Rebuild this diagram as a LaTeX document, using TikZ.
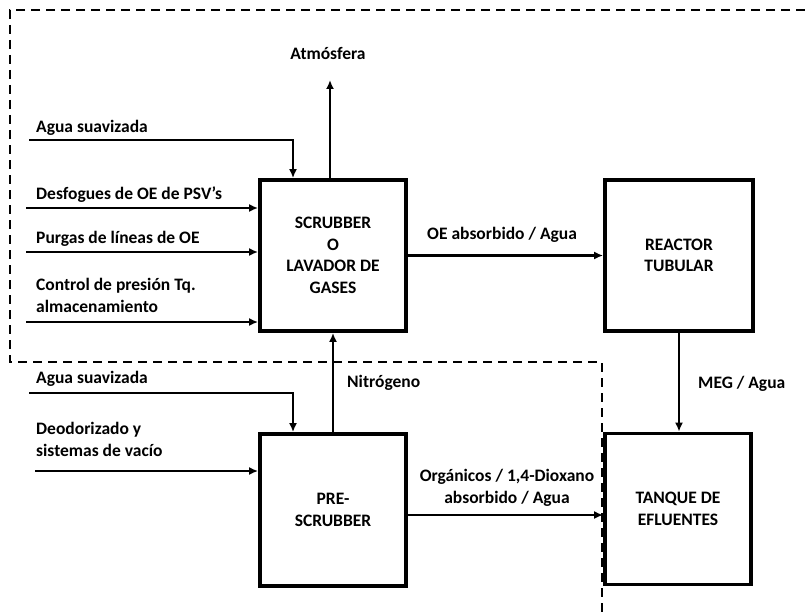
\documentclass[tikz,border=0pt]{standalone}
\usepackage{fontspec}
\setmainfont{Carlito}
\usetikzlibrary{arrows.meta}

\begin{document}
\begin{tikzpicture}[x=1pt,y=-1pt,
  box/.style={draw,line width=3.8pt,minimum width=146pt,minimum height=151pt,
    inner sep=0pt,align=center,font=\bfseries\fontsize{17.5}{21.5}\selectfont},
  lbl/.style={anchor=base west,inner sep=0pt,align=left,
    font=\bfseries\fontsize{17.5}{21.5}\selectfont},
  flow/.style={line width=2.6pt,-{Latex[length=9pt,width=8pt]}},
  limit/.style={line width=1.3pt,dash pattern=on 9pt off 6pt}]
  \useasboundingbox (0,0) rectangle (805,615);

  \node[box] (scrub) at (333,255.5) {SCRUBBER\\O\\LAVADOR DE\\GASES};
  \node[box,minimum width=148pt] (reac) at (679,255.5) {REACTOR\\TUBULAR};
  \node[box,minimum height=152pt] (pre) at (333,510) {PRE-\\SCRUBBER};
  \node[box] (tank) at (678,509) {TANQUE DE\\EFLUENTES};

  \draw[limit] (805,10) -- (10,10) -- (10,362) -- (602,362) -- (602,615);

  % entradas al scrubber
  \coordinate (atm) at (330,80);
  \coordinate (ag1) at (29,140);
  \coordinate (des) at (26,208);
  \coordinate (pur) at (26,252);
  \coordinate (ctl) at (26,322);
  \draw[flow] (scrub.north -| atm) -- (atm);
  \draw[flow] (ag1) -| ([xshift=-40pt]scrub.north);
  \draw[flow] (des) -- (des -| scrub.west);
  \draw[flow] (pur) -- (pur -| scrub.west);
  \draw[flow] (ctl) -- (ctl -| scrub.west);

  \node[anchor=base,inner sep=0pt,font=\bfseries\fontsize{17.5}{21.5}\selectfont] (latm) at (328,60) {Atmósfera};
  \node[lbl] (lag1) at (36,132) {Agua suavizada};
  \node[lbl] (ldes) at (36,199) {Desfogues de OE de PSV’s};
  \node[lbl] (lpur) at (36,243) {Purgas de líneas de OE};
  \node[lbl] (lctl) at (36,312) {Control de presión Tq.\\almacenamiento};

  % entradas al pre-scrubber
  \coordinate (ag2) at (29,393);
  \coordinate (deo) at (35,471);
  \draw[flow] (ag2) -| ([xshift=-40pt]pre.north);
  \draw[flow] (deo) -- (deo -| pre.west);
  \node[lbl] (lag2) at (36,383) {Agua suavizada};
  \node[lbl] (ldeo) at (36,456) {Deodorizado y\\sistemas de vacío};

  % corrientes entre equipos
  \draw[flow] (pre.north) -- (scrub.south);
  \draw[flow] (scrub.east) -- (reac.west);
  \draw[flow] (reac.south) -- (reac.south |- tank.north);
  \draw[flow] ([yshift=-5pt]pre.east) -- ([yshift=-5pt]pre.east -| tank.west);

  \node[lbl] (lnit) at (347,387) {Nitrógeno};
  \node[lbl] (loe) at (427,239) {OE absorbido / Agua};
  \node[lbl] (lmeg) at (698,388) {MEG / Agua};
  \node[anchor=base,inner sep=0pt,align=center,font=\bfseries\fontsize{17.5}{21.5}\selectfont]
    (lorg) at (507,503) {Orgánicos / 1,4-Dioxano\\absorbido / Agua};
\end{tikzpicture}
\end{document}
